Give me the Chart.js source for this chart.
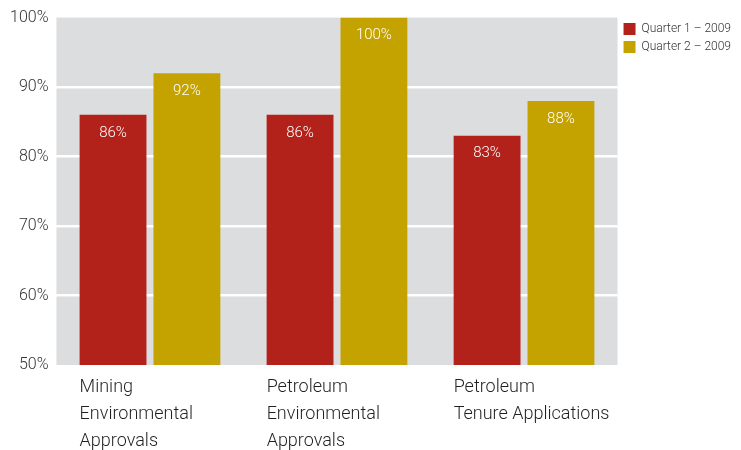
<!DOCTYPE html>
<html>
<head>
<meta charset="utf-8">
<script src="https://cdn.jsdelivr.net/npm/chart.js@4"></script>
<style>
    html, body { margin: 0; padding: 0; background: #ffffff; }
    #wrap { width: 741px; height: 450px; position: relative; }
</style>
</head>
<body>
<div id="wrap"><canvas id="approvalsChart"></canvas></div>
<script>
// values
const categories = [
    ['Mining', 'Environmental', 'Approvals'],
    ['Petroleum', 'Environmental', 'Approvals'],
    ['Petroleum', 'Tenure Applications']
];
const seriesNames = ['Quarter 1 \u2013 2009', 'Quarter 2 \u2013 2009'];
const quarter1 = [86, 86, 83];
const quarter2 = [92, 100, 88];
const yTicks = [50, 60, 70, 80, 90, 100];

const RED = '#b3221a';
const GOLD = '#c4a300';
const FONT = 'Roboto, "Liberation Sans", Arial, sans-serif';

// grey plot background
const plotBackground = {
    id: 'plotBackground',
    beforeDraw(chart) {
        const { ctx, chartArea: a } = chart;
        ctx.save();
        ctx.fillStyle = '#dcdddf';
        ctx.fillRect(a.left, a.top, a.right - a.left, a.bottom - a.top);
        ctx.restore();
    }
};

// percentage labels inside bars + category labels under the first bar
const barLabels = {
    id: 'barLabels',
    afterDatasetsDraw(chart) {
        const { ctx, chartArea } = chart;
        ctx.save();
        ctx.fillStyle = '#ffffff';
        ctx.font = '300 15px ' + FONT;
        ctx.textAlign = 'center';
        ctx.textBaseline = 'middle';
        chart.data.datasets.forEach((ds, di) => {
            chart.getDatasetMeta(di).data.forEach((bar, i) => {
                ctx.fillText(ds.data[i] + '%', bar.x, bar.y + 18);
            });
        });

        ctx.fillStyle = '#231f20';
        ctx.font = '300 18px ' + FONT;
        ctx.textAlign = 'left';
        ctx.textBaseline = 'middle';
        const first = chart.getDatasetMeta(0).data;
        categories.forEach((lines, i) => {
            const x = first[i].x - first[i].width / 2;
            lines.forEach((line, li) => {
                ctx.fillText(line, x, chartArea.bottom + 22 + li * 27);
            });
        });
        ctx.restore();
    }
};

new Chart(document.getElementById('approvalsChart'), {
    type: 'bar',
    data: {
        labels: categories,
        datasets: [
            { label: seriesNames[0], data: quarter1, backgroundColor: RED },
            { label: seriesNames[1], data: quarter2, backgroundColor: GOLD }
        ]
    },
    options: {
        responsive: true,
        maintainAspectRatio: false,
        animation: false,
        layout: { padding: { top: 17, left: 2, bottom: 77, right: 0 } },
        datasets: {
            bar: { categoryPercentage: 0.79, barPercentage: 0.905 }
        },
        scales: {
            x: {
                ticks: { display: false },
                grid: { display: false },
                border: { display: false }
            },
            y: {
                min: 50,
                max: 100,
                afterBuildTicks(axis) {
                    axis.ticks = yTicks.map(v => ({ value: v }));
                },
                ticks: {
                    padding: 8,
                    color: '#333333',
                    font: { family: FONT, size: 16, weight: '300' },
                    callback: v => v + '%'
                },
                grid: {
                    color: c => (c.tick.value === 50 || c.tick.value === 100) ? 'rgba(0,0,0,0)' : '#ffffff',
                    lineWidth: 2.5,
                    drawTicks: false
                },
                border: { display: false }
            }
        },
        plugins: {
            legend: {
                position: 'right',
                align: 'start',
                labels: {
                    boxWidth: 12,
                    boxHeight: 12,
                    padding: 6,
                    color: '#333333',
                    font: { family: FONT, size: 12, weight: '300' }
                }
            },
            tooltip: { enabled: false }
        }
    },
    plugins: [plotBackground, barLabels]
});
</script>
</body>
</html>
